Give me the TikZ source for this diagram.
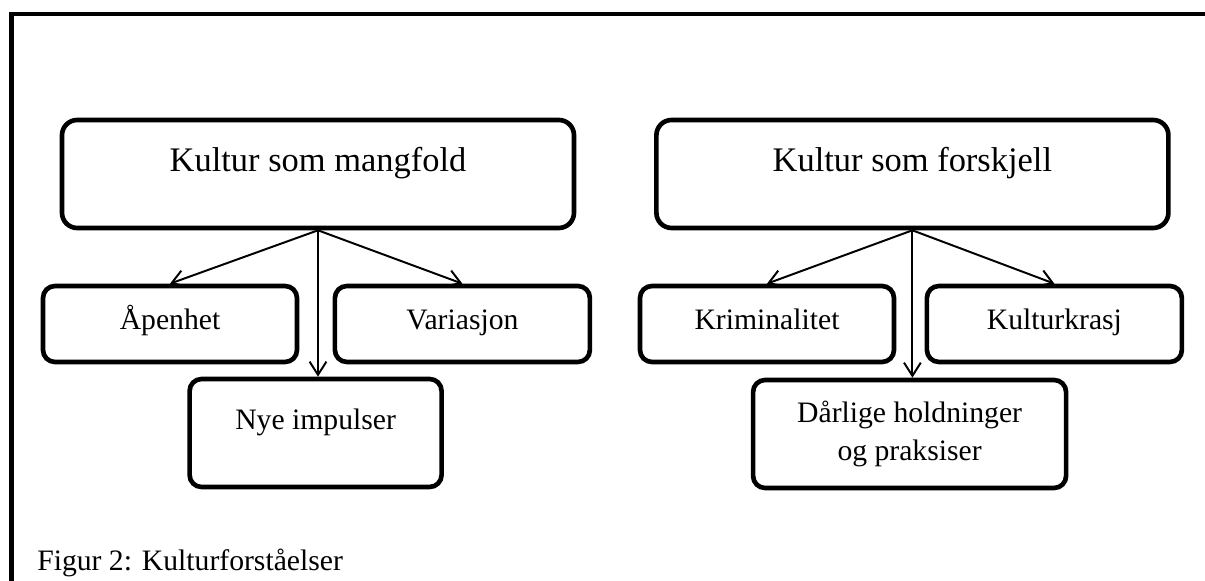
\documentclass[tikz,border=0pt]{standalone}
\usepackage{fontspec}
\setmainfont{Liberation Serif}
\usetikzlibrary{arrows.meta}

\tikzset{
  kulturbox/.style={draw, line width=3.3pt, inner xsep=0pt, inner ysep=0pt, align=center},
  hoved/.style={kulturbox, rounded corners=0.38cm, minimum width=12.8cm,
    text height=1.3cm, text depth=1.4cm, font=\fontsize{24.5}{29}\selectfont},
  under/.style={kulturbox, rounded corners=0.3cm, minimum width=6.35cm,
    text height=1.1cm, text depth=0.8cm, font=\fontsize{21.1}{27}\selectfont},
  pil/.style={->, line width=1.4pt}
}

\begin{document}
\begin{tikzpicture}[>={Straight Barb[length=0.33cm, width=0.42cm]}]
\useasboundingbox (0,0) rectangle (30.125,14.525);

% Ramme
\draw[line width=3.3pt] (0.2875,0) |- (30.125,14.175);

% Kultur som mangfold
\node[hoved] (mangfold) at (7.95,10.175) {Kultur som mangfold};
\node[under] (apenhet) at (4.25,6.425) {Åpenhet};
\node[under, minimum width=6.375cm] (variasjon) at (11.56,6.425) {Variasjon};
\node[under, minimum width=6.3cm, text height=1.275cm, text depth=1.425cm] (nye) at (7.89,3.7) {Nye impulser};
\draw[pil] (mangfold.south) -- (apenhet.north);
\draw[pil] (mangfold.south) -- (variasjon.north);
\draw[pil] (mangfold.south) -- (mangfold.south |- nye.north);

% Kultur som forskjell
\node[hoved] (forskjell) at (22.81,10.175) {Kultur som forskjell};
\node[under] (krim) at (19.175,6.425) {Kriminalitet};
\node[under, minimum width=6.375cm] (krasj) at (26.36,6.425) {Kulturkrasj};
\node[kulturbox, rounded corners=0.3cm, minimum width=7.825cm, minimum height=2.7cm,
  font=\fontsize{21.1}{27}\selectfont] (darlige) at (22.74,3.675) {Dårlige holdninger\\og praksiser};
\draw[pil] (forskjell.south) -- (krim.north);
\draw[pil] (forskjell.south) -- (krasj.north);
\draw[pil] (forskjell.south) -- (forskjell.south |- darlige.north);

% Figurtekst
\node[anchor=base west, inner sep=0pt, font=\fontsize{21.1}{27}\selectfont] (figtekst) at (0.925,0.25) {Figur 2: Kulturforståelser};
\end{tikzpicture}
\end{document}
